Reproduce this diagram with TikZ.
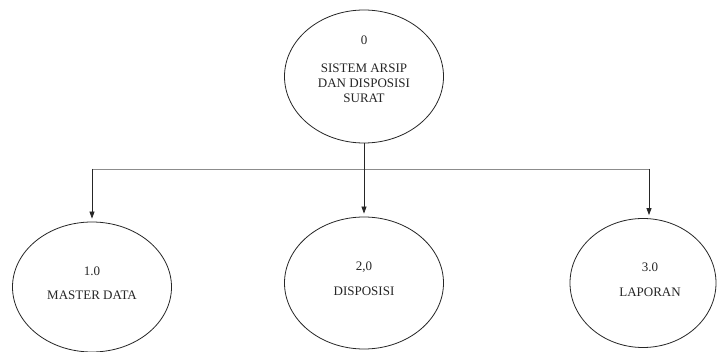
\documentclass[tikz,border=0pt]{standalone}
\usepackage{fontspec}
\setmainfont{Liberation Serif}
\usetikzlibrary{shapes.geometric,arrows.meta}
\begin{document}
\begin{tikzpicture}[x=1pt,y=-1pt,
  proc/.style={draw=black!85,line width=0.8pt,ellipse,inner sep=0pt,
    minimum width=159pt,minimum height=130pt},
  txt/.style={font=\fontsize{13}{15}\selectfont,text=black!85,inner sep=0pt,anchor=base},
  bus/.style={draw=black!45,line width=0.7pt},
  flow/.style={draw=black!85,line width=0.8pt,-{Triangle[length=7pt,width=5pt]},shorten >=3pt}]
\useasboundingbox (0,0) rectangle (717,352);
\clip (0,0) rectangle (717,352);
\fill[white] (0,0) rectangle (717,352);

% context process
\node[proc,minimum height=133pt] (p0) at (364,76.5) {};
\node[txt] (t0a) at (364,45) {0};
\node[txt] (t0b) at (364,73) {SISTEM ARSIP};
\node[txt] (t0c) at (364,88) {DAN DISPOSISI};
\node[txt] (t0d) at (364,103) {SURAT};

% decomposed processes
\node[proc] (p1) at (92,287) {};
\node[txt] (t1a) at (92,276) {1.0};
\node[txt] (t1b) at (92,300) {MASTER DATA};

\node[proc,minimum height=132pt] (p2) at (364,283) {};
\node[txt] (t2a) at (364,271) {2,0};
\node[txt] (t2b) at (364,296) {DISPOSISI};

\node[proc,minimum width=146pt,minimum height=129pt] (p3) at (643,283) {};
\node[txt] (t3a) at (650,272) {3.0};
\node[txt] (t3b) at (650,297) {LAPORAN};

% distribution bus
\coordinate (b1) at (92,169);
\coordinate (b2) at (364,169);
\coordinate (b3) at (649,169);
\draw[bus] (b1) -- (b3);
\draw[draw=black!85,line width=0.8pt] (p0.south) -- (b2);
\draw[flow] (b1) -- (p1.north);
\draw[flow] (b2) -- (p2.north);
\draw[flow] (b3) -- (b3 |- p3.north);
\end{tikzpicture}
\end{document}
